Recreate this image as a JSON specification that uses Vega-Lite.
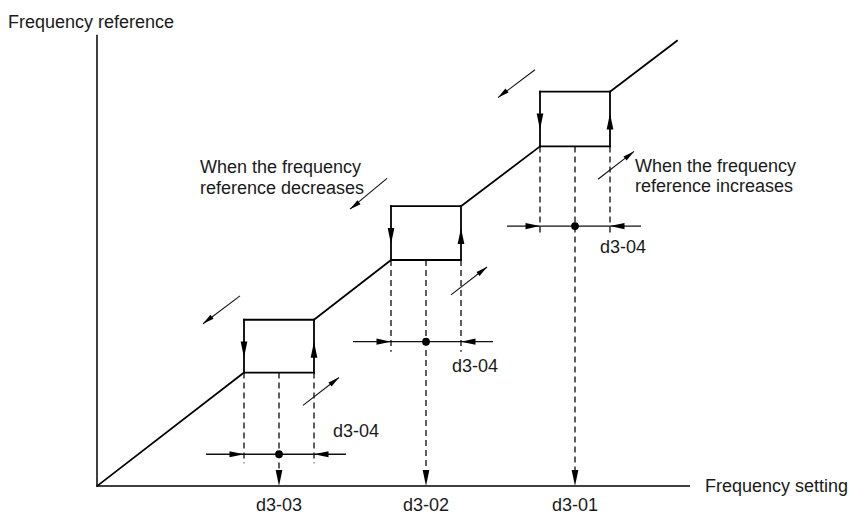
{
  "$schema": "https://vega.github.io/schema/vega-lite/v6.json",
  "width": 850,
  "height": 515,
  "autosize": {"type": "fit", "contains": "padding"},
  "padding": 0,
  "background": "white",
  "config": {"view": {"stroke": null}, "text": {"font": "Liberation Sans", "fontSize": 18, "fill": "#1a1a1a"}},
  "datasets": {
    "segs": [
      {"kind": "axis", "x": 0, "y": 0, "x2": 0, "y2": 45.3},
      {"kind": "axis", "x": 0, "y": 0, "x2": 59.3, "y2": 0},
      {"kind": "main", "x": 0, "y": 0, "x2": 14.7, "y2": 11.4},
      {"kind": "main", "x": 14.7, "y": 11.4, "x2": 21.7, "y2": 11.4},
      {"kind": "main", "x": 14.7, "y": 16.7, "x2": 21.7, "y2": 16.7},
      {"kind": "main", "x": 14.7, "y": 11.4, "x2": 14.7, "y2": 16.7},
      {"kind": "main", "x": 21.7, "y": 11.4, "x2": 21.7, "y2": 16.7},
      {"kind": "main", "x": 21.7, "y": 16.7, "x2": 29.4, "y2": 22.7},
      {"kind": "main", "x": 29.4, "y": 22.7, "x2": 36.4, "y2": 22.7},
      {"kind": "main", "x": 29.4, "y": 28.1, "x2": 36.4, "y2": 28.1},
      {"kind": "main", "x": 29.4, "y": 22.7, "x2": 29.4, "y2": 28.1},
      {"kind": "main", "x": 36.4, "y": 22.7, "x2": 36.4, "y2": 28.1},
      {"kind": "main", "x": 36.4, "y": 28.1, "x2": 44.3, "y2": 34.1},
      {"kind": "main", "x": 44.3, "y": 34.1, "x2": 51.3, "y2": 34.1},
      {"kind": "main", "x": 44.3, "y": 39.6, "x2": 51.3, "y2": 39.6},
      {"kind": "main", "x": 44.3, "y": 34.1, "x2": 44.3, "y2": 39.6},
      {"kind": "main", "x": 51.3, "y": 34.1, "x2": 51.3, "y2": 39.6},
      {"kind": "main", "x": 51.3, "y": 39.6, "x2": 58.0, "y2": 44.7},
      {"kind": "dim", "x": 10.9, "y": 3.2, "x2": 24.9, "y2": 3.2},
      {"kind": "dim", "x": 25.6, "y": 14.5, "x2": 39.6, "y2": 14.5},
      {"kind": "dim", "x": 41.0, "y": 26.1, "x2": 54.4, "y2": 26.1},
      {"kind": "thin", "x": 14.3, "y": 19.1, "x2": 10.6, "y2": 16.3},
      {"kind": "thin", "x": 29.0, "y": 30.9, "x2": 25.3, "y2": 27.8},
      {"kind": "thin", "x": 43.8, "y": 41.8, "x2": 40.1, "y2": 39.0},
      {"kind": "thin", "x": 20.6, "y": 8.1, "x2": 24.2, "y2": 10.9},
      {"kind": "thin", "x": 35.4, "y": 19.2, "x2": 39.0, "y2": 22.0},
      {"kind": "thin", "x": 50.1, "y": 30.8, "x2": 53.7, "y2": 33.6},
      {"kind": "dash", "x": 14.7, "y": 11.4, "x2": 14.7, "y2": 2.3},
      {"kind": "dash", "x": 21.7, "y": 11.4, "x2": 21.7, "y2": 2.3},
      {"kind": "dash", "x": 18.2, "y": 11.4, "x2": 18.2, "y2": 0.5},
      {"kind": "dash", "x": 29.4, "y": 22.7, "x2": 29.4, "y2": 13.5},
      {"kind": "dash", "x": 36.4, "y": 22.7, "x2": 36.4, "y2": 13.5},
      {"kind": "dash", "x": 32.9, "y": 22.7, "x2": 32.9, "y2": 0.5},
      {"kind": "dash", "x": 44.3, "y": 34.1, "x2": 44.3, "y2": 25.2},
      {"kind": "dash", "x": 51.3, "y": 34.1, "x2": 51.3, "y2": 25.2},
      {"kind": "dash", "x": 47.8, "y": 34.1, "x2": 47.8, "y2": 0.5}
    ],
    "heads": [
      {"dir": "down", "x": 14.7, "y": 12.9},
      {"dir": "down", "x": 29.4, "y": 24.3},
      {"dir": "down", "x": 44.3, "y": 35.8},
      {"dir": "down", "x": 18.2, "y": 0},
      {"dir": "down", "x": 32.9, "y": 0},
      {"dir": "down", "x": 47.8, "y": 0},
      {"dir": "up", "x": 21.7, "y": 14.5},
      {"dir": "up", "x": 36.4, "y": 25.9},
      {"dir": "up", "x": 51.3, "y": 37.4},
      {"dir": "right", "x": 14.7, "y": 3.2},
      {"dir": "right", "x": 29.4, "y": 14.5},
      {"dir": "right", "x": 44.3, "y": 26.1},
      {"dir": "left", "x": 21.7, "y": 3.2},
      {"dir": "left", "x": 36.4, "y": 14.5},
      {"dir": "left", "x": 51.3, "y": 26.1},
      {"dir": "ur", "x": 24.2, "y": 10.9},
      {"dir": "ur", "x": 39.0, "y": 22.0},
      {"dir": "ur", "x": 53.7, "y": 33.6},
      {"dir": "dl", "x": 10.6, "y": 16.3},
      {"dir": "dl", "x": 25.3, "y": 27.8},
      {"dir": "dl", "x": 40.1, "y": 39.0}
    ],
    "dots": [
      {"x": 18.2, "y": 3.2},
      {"x": 32.9, "y": 14.5},
      {"x": 47.8, "y": 26.1}
    ],
    "labels": [
      {"role": "left", "x": -8.9, "y": 46.0, "text": "Frequency reference"},
      {"role": "right", "x": 75.1, "y": -0.6, "text": "Frequency setting"},
      {"role": "center", "x": 18.2, "y": -2.5, "text": "d3-03"},
      {"role": "center", "x": 32.9, "y": -2.5, "text": "d3-02"},
      {"role": "center", "x": 47.8, "y": -2.5, "text": "d3-01"},
      {"role": "center", "x": 25.9, "y": 4.9, "text": "d3-04"},
      {"role": "center", "x": 37.8, "y": 11.5, "text": "d3-04"},
      {"role": "center", "x": 52.6, "y": 23.4, "text": "d3-04"},
      {"role": "left", "x": 10.3, "y": 31.4, "text": "When the frequency"},
      {"role": "left", "x": 10.3, "y": 29.3, "text": "reference decreases"},
      {"role": "left", "x": 53.8, "y": 31.5, "text": "When the frequency"},
      {"role": "left", "x": 53.8, "y": 29.5, "text": "reference increases"}
    ]
  },
  "encoding": {
    "x": {"field": "x", "type": "quantitative", "scale": {"domain": [-9.7, 75.3], "nice": false, "zero": false}, "axis": null},
    "y": {"field": "y", "type": "quantitative", "scale": {"domain": [-2.7, 48.8], "nice": false, "zero": false}, "axis": null}
  },
  "layer": [
    {"data": {"name": "segs"}, "transform": [{"filter": "datum.kind === 'dash'"}],
     "mark": {"type": "rule", "color": "#000", "strokeWidth": 1.25, "strokeDash": [6, 4]},
     "encoding": {"x2": {"field": "x2"}, "y2": {"field": "y2"}}},
    {"data": {"name": "segs"}, "transform": [{"filter": "datum.kind === 'axis'"}],
     "mark": {"type": "rule", "color": "#000", "strokeWidth": 1.5},
     "encoding": {"x2": {"field": "x2"}, "y2": {"field": "y2"}}},
    {"data": {"name": "segs"}, "transform": [{"filter": "datum.kind === 'main'"}],
     "mark": {"type": "rule", "color": "#000", "strokeWidth": 1.8, "strokeCap": "square"},
     "encoding": {"x2": {"field": "x2"}, "y2": {"field": "y2"}}},
    {"data": {"name": "segs"}, "transform": [{"filter": "datum.kind === 'dim'"}],
     "mark": {"type": "rule", "color": "#111", "strokeWidth": 1.3},
     "encoding": {"x2": {"field": "x2"}, "y2": {"field": "y2"}}},
    {"data": {"name": "segs"}, "transform": [{"filter": "datum.kind === 'thin'"}],
     "mark": {"type": "rule", "color": "#111", "strokeWidth": 1.1},
     "encoding": {"x2": {"field": "x2"}, "y2": {"field": "y2"}}},
    {"data": {"name": "heads"}, "transform": [{"filter": "datum.dir === 'down'"}],
     "mark": {"type": "point", "shape": "M0,0L0.42,-2L-0.42,-2Z", "size": 256, "filled": true, "color": "#000", "opacity": 1, "strokeWidth": 0}},
    {"data": {"name": "heads"}, "transform": [{"filter": "datum.dir === 'up'"}],
     "mark": {"type": "point", "shape": "M0,0L0.42,2L-0.42,2Z", "size": 256, "filled": true, "color": "#000", "opacity": 1, "strokeWidth": 0}},
    {"data": {"name": "heads"}, "transform": [{"filter": "datum.dir === 'right'"}],
     "mark": {"type": "point", "shape": "M0,0L-2,0.42L-2,-0.42Z", "size": 210, "filled": true, "color": "#000", "opacity": 1, "strokeWidth": 0}},
    {"data": {"name": "heads"}, "transform": [{"filter": "datum.dir === 'left'"}],
     "mark": {"type": "point", "shape": "M0,0L2,0.42L2,-0.42Z", "size": 210, "filled": true, "color": "#000", "opacity": 1, "strokeWidth": 0}},
    {"data": {"name": "heads"}, "transform": [{"filter": "datum.dir === 'ur'"}],
     "mark": {"type": "point", "shape": "M0,0L0.45,2L-0.45,2Z", "angle": 52, "size": 130, "filled": true, "color": "#000", "opacity": 1, "strokeWidth": 0}},
    {"data": {"name": "heads"}, "transform": [{"filter": "datum.dir === 'dl'"}],
     "mark": {"type": "point", "shape": "M0,0L0.45,2L-0.45,2Z", "angle": 232, "size": 130, "filled": true, "color": "#000", "opacity": 1, "strokeWidth": 0}},
    {"data": {"name": "dots"},
     "mark": {"type": "point", "shape": "circle", "size": 60, "filled": true, "color": "#000", "opacity": 1, "strokeWidth": 0}},
    {"data": {"name": "labels"}, "transform": [{"filter": "datum.role === 'left'"}],
     "mark": {"type": "text", "align": "left", "baseline": "alphabetic"},
     "encoding": {"text": {"field": "text"}}},
    {"data": {"name": "labels"}, "transform": [{"filter": "datum.role === 'right'"}],
     "mark": {"type": "text", "align": "right", "baseline": "alphabetic"},
     "encoding": {"text": {"field": "text"}}},
    {"data": {"name": "labels"}, "transform": [{"filter": "datum.role === 'center'"}],
     "mark": {"type": "text", "align": "center", "baseline": "alphabetic"},
     "encoding": {"text": {"field": "text"}}}
  ]
}
